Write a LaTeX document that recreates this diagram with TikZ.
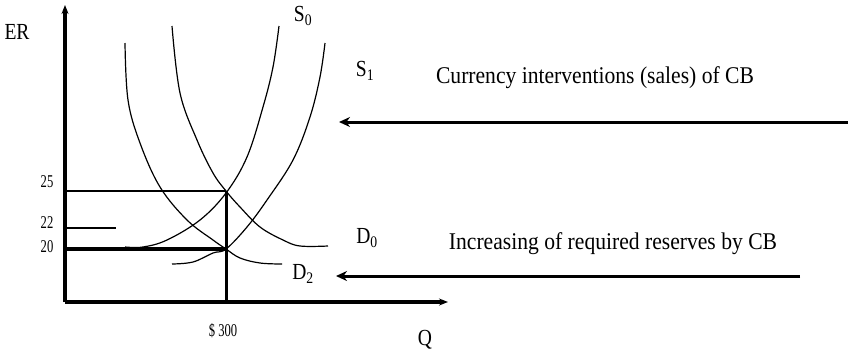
\documentclass[tikz,border=0pt]{standalone}
\usepackage{fontspec}
\setmainfont{Liberation Serif}
\usetikzlibrary{arrows.meta, positioning}

\tikzset{
  axisline/.style={line width=3.5pt, -{Stealth[length=9pt,width=7pt]}},
  curveline/.style={line width=1.2pt},
  levelline/.style={line width=1.5pt},
  shiftarrow/.style={line width=3pt, -{Stealth[length=11pt,width=10pt]}},
  ticklab/.style={font=\fontsize{18}{18}\selectfont, inner sep=0pt, xscale=0.7},
  curvelab/.style={font=\fontsize{23}{23}\selectfont, inner sep=0pt, xscale=0.85},
  notelab/.style={font=\fontsize{24}{24}\selectfont, inner sep=0pt, xscale=0.9}
}

\begin{document}
\begin{tikzpicture}[x=1pt, y=-1pt]
  \useasboundingbox (0,0) rectangle (848,357);
  % axes
  \coordinate (O) at (65,302);
  \coordinate (ytop) at (65,5);
  \coordinate (xend) at (448,302);
  \draw[axisline] (O) -- (ytop);
  \draw[axisline] (O) -- (xend);
  \node[curvelab] (er) at (17,32) {ER};
  \node[curvelab] (q) at (425,340) {Q};

  % equilibrium levels
  \coordinate (e25) at (226,191);
  \coordinate (e20) at (226,249);
  \coordinate (q300) at (226,302);
  \coordinate (y25) at (65,191);
  \coordinate (y22) at (65,228);
  \coordinate (x22) at (116,228);
  \coordinate (y20) at (65,249);
  \draw[levelline] (y25) -- (e25);
  \draw[levelline] (y22) -- (x22);
  \draw[line width=3.5pt] (y20) -- (e20);
  \draw[line width=3pt] (q300) -- (e25);
  \node[ticklab] (l25) at (47,182) {25};
  \node[ticklab] (l22) at (47,223) {22};
  \node[ticklab] (l20) at (47,247) {20};
  \node[ticklab] (l300) at (223,331) {\$ 300};

  % demand curves
  \draw[curveline] plot[smooth, tension=0.6] coordinates {(172,26) (180,93) (197,140) (213,173) (226,191) (240,207) (260,227) (283,240) (300,246) (328,246)};
  \draw[curveline] plot[smooth, tension=0.6] coordinates {(125,43) (128,100) (140,143) (160,187) (187,220) (213,240) (226,249) (240,258) (260,263) (282,264)};
  % supply curves
  \draw[curveline] plot[smooth, tension=0.6] coordinates {(125,247) (143,247) (167,240) (200,220) (226,193) (247,157) (263,107) (273,67) (279,26)};
  \draw[curveline] plot[smooth, tension=0.6] coordinates {(172,264) (193,262) (213,253) (226,249) (247,227) (267,200) (293,160) (310,117) (320,77) (325,43)};
  \node[curvelab] (s0) at (303,16) {S\textsubscript{0}};
  \node[curvelab] (s1) at (365,71) {S\textsubscript{1}};
  \node[curvelab] (d0) at (367,238) {D\textsubscript{0}};
  \node[curvelab] (d2) at (303,274) {D\textsubscript{2}};

  % central bank actions
  \coordinate (cvstart) at (848,122);
  \coordinate (cvend) at (339,122);
  \coordinate (rrstart) at (800,276);
  \coordinate (rrend) at (336,276);
  \draw[shiftarrow] (cvstart) -- (cvend);
  \draw[shiftarrow] (rrstart) -- (rrend);
  \node[notelab] (cv) at (595,78) {Currency interventions (sales) of CB};
  \node[notelab] (rr) at (613,244) {Increasing of required reserves by CB};
\end{tikzpicture}
\end{document}
